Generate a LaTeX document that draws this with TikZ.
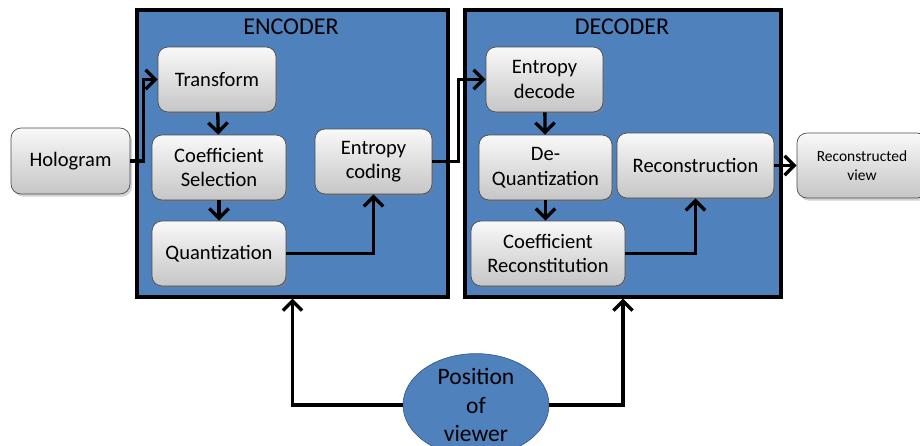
\documentclass[tikz,border=0pt]{standalone}
\usepackage{fontspec}
\setmainfont{Carlito}
\usepackage{xcolor}
\usepackage{tikz}
\usetikzlibrary{arrows.meta,positioning,shapes.geometric,shadows,calc}
\definecolor{officeblue}{HTML}{4F81BD}
\definecolor{officeedge}{HTML}{385D8A}
\tikzset{>={Straight Barb[length=5.5pt,width=11pt]}}

\begin{document}
\begin{tikzpicture}[x=0.02cm, y=-0.02cm,
		every node/.style={font=\fontsize{11.7}{14}\selectfont},
		stage/.style={draw=black!70, thin, rounded corners=0.2cm, top color=gray!5, bottom color=gray!45, align=center, minimum height=1.3cm, inner sep=1pt, drop shadow={opacity=0.35, shadow xshift=1.2pt, shadow yshift=-1.5pt}},
		codec/.style={draw=black, line width=1.8pt, fill=officeblue, inner sep=0pt},
		flow/.style={->, line width=1.9pt, line join=miter}]
			\useasboundingbox (0,0) rectangle (920,446);
			\node[codec, minimum width=6.22cm, minimum height=5.74cm] (encbox) at (292.5,153.5) {};
			\node[codec, minimum width=6.32cm, minimum height=5.74cm] (decbox) at (623,153.5) {};
			\node[font=\fontsize{13.7}{16}\selectfont] (enclabel) at (291,27) {ENCODER};
			\node[font=\fontsize{13.7}{16}\selectfont] (declabel) at (622,27) {DECODER};
			\node[stage, minimum width=2.38cm, minimum height=1.32cm] (holo) at (70.5,161) {Hologram};
			\node[stage, minimum width=2.36cm] (trans) at (217,79.5) {Transform};
			\node[stage, minimum width=2.68cm] (csel) at (219,167.5) {Coefficient\\Selection};
			\node[stage, minimum width=2.68cm] (quant) at (219,253.5) {Quantization};
			\node[stage, minimum width=2.34cm] (ecode) at (373.5,161.5) {Entropy\\coding};
			\node[stage, minimum width=2.34cm] (edec) at (544.5,79.5) {Entropy\\decode};
			\node[stage, minimum width=2.66cm] (deq) at (545.5,167.5) {De-\\Quantization};
			\node[stage, minimum width=3.08cm] (crec) at (548,253.5) {Coefficient\\Reconstitution};
			\node[stage, minimum width=3.14cm] (recon) at (695.5,165.5) {Reconstruction};
			\node[stage, minimum width=2.6cm, font=\fontsize{8.8}{11}\selectfont] (view) at (862,165.5) {Reconstructed\\view};
			\node[ellipse, draw=officeedge, thin, fill=officeblue, minimum width=2.92cm, minimum height=1.7cm, inner sep=0pt, align=center, font=\fontsize{13.4}{16}\selectfont] (pov) at (476,405) {Position\\of\\viewer};
			\draw[flow] (holo.east) -- ++(13,0) |- (trans.west);
			\draw[flow] (trans) -- (csel);
			\draw[flow] (csel) -- (quant);
			\draw[flow] (quant.east) -| (ecode.south);
			\draw[flow] (ecode.east) -- ++(26,0) |- (edec.west);
			\draw[flow] (edec) -- (deq);
			\draw[flow] (deq.south) -- (deq.south |- crec.north);
			\draw[flow] (crec.east) -| (recon.south);
			\draw[flow] (recon.east) -- (view.west);
			\draw[flow] (pov.west) -| (encbox.south);
			\draw[flow] (pov.east) -| (decbox.south);
		\end{tikzpicture}
\end{document}
